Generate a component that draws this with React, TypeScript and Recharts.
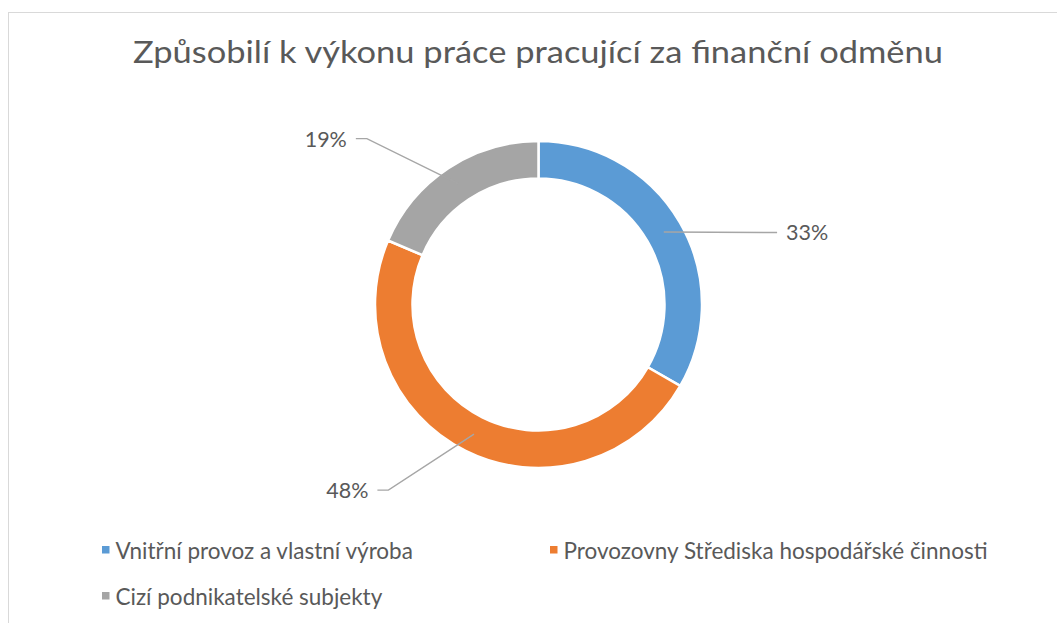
import React from 'react';
import { PieChart, Pie, Cell, Legend } from 'recharts';

const chartTitle = 'Způsobilí k výkonu práce pracující za finanční odměnu';
const categories = [
  'Vnitřní provoz a vlastní výroba',
  'Provozovny Střediska hospodářské činnosti',
  'Cizí podnikatelské subjekty',
];
const shares = [33.3, 48.1, 18.6];
const colors = ['#5B9BD5', '#ED7D31', '#A5A5A5'];

const data = categories.map((name, i) => ({ name, value: shares[i] }));

const W = 1057;
const H = 623;
const FONT = 'Lato, "Open Sans", sans-serif';
const TEXT = '#595959';
const RAD = Math.PI / 180;

const renderLabel = (props: any) => {
  const { cx, cy, midAngle, innerRadius, outerRadius, percent, index } = props;
  const theta = (((90 - midAngle) % 360) + 360) % 360;
  const right = theta < 180;
  const horiz = right ? 90 : 270;
  const shifted = theta + Math.sign(horiz - theta) * 12.5;
  const rm = (innerRadius + outerRadius) / 2;
  const sx = cx + rm * Math.sin(theta * RAD);
  const sy = cy - rm * Math.cos(theta * RAD);
  const R = outerRadius * 1.46;
  const ex = cx + R * Math.sin(shifted * RAD);
  const ey = cy - R * Math.cos(shifted * RAD);
  const lx = ex + (right ? 11 : -11);
  const tx = lx + (right ? 9 : -9);
  return (
    <g key={`lbl-${index}`}>
      <polyline
        points={`${sx},${sy} ${ex},${ey} ${lx},${ey}`}
        fill="none"
        stroke="#A6A6A6"
        strokeWidth={1.4}
      />
      <text
        x={tx}
        y={ey + 8}
        textAnchor={right ? 'start' : 'end'}
        fill={TEXT}
        fontSize={21.5}
        fontFamily={FONT}
      >
        {Math.round(percent * 100)}%
      </text>
    </g>
  );
};

const renderLegend = () => (
  <svg width={W} height={90} style={{ display: 'block' }}>
    {categories.map((name, i) => {
      const col = i % 2;
      const row = Math.floor(i / 2);
      const x = 102 + col * 448;
      const y = 29 + row * 46;
      return (
        <g key={name}>
          <rect x={x} y={y - 13} width={7.5} height={7.5} fill={colors[i]} />
          <text x={x + 13.5} y={y} fill={TEXT} fontSize={22.5} fontFamily={FONT}>
            {name}
          </text>
        </g>
      );
    })}
  </svg>
);

export default function App() {
  return (
    <div
      style={{
        position: 'absolute',
        left: 0,
        top: 0,
        width: W,
        height: H,
        overflow: 'hidden',
        background: '#fff',
      }}
    >
      <div
        style={{
          position: 'absolute',
          left: 8,
          top: 12,
          width: W + 10,
          height: H + 10,
          border: '1px solid #D9D9D9',
          boxSizing: 'border-box',
        }}
      />
      <svg
        width={W}
        height={100}
        style={{ position: 'absolute', left: 0, top: 0 }}
      >
        <text
          x={538}
          y={63}
          textAnchor="middle"
          fill={TEXT}
          fontSize={31}
          fontFamily={FONT}
          textLength={810}
          lengthAdjust="spacingAndGlyphs"
        >
          {chartTitle}
        </text>
      </svg>
      <div style={{ position: 'absolute', left: 0, top: 0 }}>
        <PieChart width={W} height={H} margin={{ top: 0, right: 0, bottom: 0, left: 0 }}>
          <Pie
            data={data}
            dataKey="value"
            nameKey="name"
            cx={538.5}
            cy={304.5}
            innerRadius={126}
            outerRadius={163.5}
            startAngle={90}
            endAngle={-270}
            stroke="#ffffff"
            strokeWidth={2.5}
            label={renderLabel}
            labelLine={false}
            isAnimationActive={false}
          >
            {data.map((d, i) => (
              <Cell key={d.name} fill={colors[i]} />
            ))}
          </Pie>
          <Legend
            content={renderLegend}
            wrapperStyle={{ position: 'absolute', left: 0, top: 530, width: W, height: 90 }}
          />
        </PieChart>
      </div>
    </div>
  );
}
